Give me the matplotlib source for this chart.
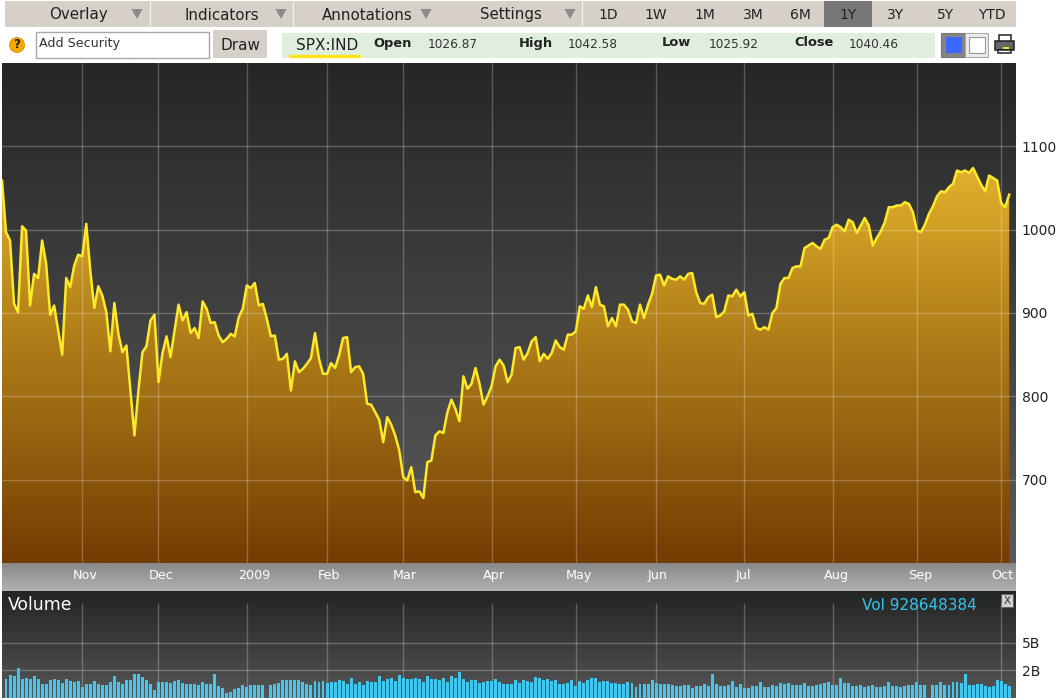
import numpy as np
import matplotlib
matplotlib.use("Agg")
import matplotlib.pyplot as plt
from matplotlib.colors import LinearSegmentedColormap
from matplotlib.patches import Rectangle, Circle, Polygon
from matplotlib.transforms import ScaledTranslation

prices = [
 1059,997,987,911,901,1004,999,909,947,942,987,959,898,909,879,850,942,931,957,970,
 968,1007,951,906,932,921,901,854,912,875,853,861,807,753,807,853,860,891,898,817,
 852,872,847,879,910,891,901,876,882,870,914,905,888,889,873,865,869,875,872,895,
 905,933,930,936,909,911,893,872,873,844,845,851,807,842,829,833,839,846,876,845,
 827,827,840,834,849,870,871,829,835,836,827,791,790,781,772,745,775,766,753,735,
 703,699,715,685,686,678,721,723,753,758,756,781,796,785,770,824,809,815,834,815,
 790,800,812,836,844,837,817,826,858,859,844,852,866,871,842,851,845,852,867,859,
 856,874,874,878,908,905,921,907,931,910,908,884,894,884,910,910,904,890,888,910,
 894,910,923,945,946,933,944,941,940,944,940,947,948,925,912,911,919,922,895,897,
 902,921,920,928,920,925,897,899,882,880,883,880,900,906,935,942,942,954,956,956,
 978,981,984,980,977,988,990,1003,1006,1003,998,1012,1009,996,1005,1014,1005,981,990,998,
 1009,1027,1027,1029,1029,1033,1031,1021,999,997,1006,1019,1028,1040,1046,1045,1051,1055,1071,1069,
 1071,1068,1074,1064,1054,1046,1065,1062,1059,1032,1027,1042]

# Volume in billions of shares (index matches prices; 0 = no bar)
volumes = [
 0,1.36,1.64,1.55,2.19,1.36,1.45,1.36,1.57,1.38,1.00,.98,1.31,1.33,1.31,1.10,1.36,1.24,1.12,1.21,
 .81,1.02,1.02,1.21,1.00,.93,.95,1.12,1.55,1.17,1.02,1.26,1.26,1.69,1.74,1.48,1.31,1.00,.60,1.17,
 1.17,1.17,1.10,1.21,1.26,1.10,1.00,1.02,1.02,.90,1.14,1.00,1.02,1.74,.88,.71,.38,.45,.64,.69,
 .90,.79,.93,.95,.95,.93,0,.95,1.02,1.10,1.31,1.31,1.31,1.31,1.29,1.14,1.02,.95,1.21,1.12,
 1.19,1.10,1.12,1.14,1.29,1.21,1.00,1.41,1.02,1.14,.95,1.21,1.12,1.17,1.60,1.21,1.38,1.40,1.19,1.67,
 1.43,1.38,1.36,1.43,1.36,1.17,1.60,1.33,1.33,1.26,1.40,1.14,1.57,1.43,1.88,1.38,1.17,1.31,1.31,1.05,
 1.12,1.21,1.21,1.36,1.12,1.00,.98,1.02,1.31,1.07,1.31,1.21,
 1.12,1.48,1.43,1.29,1.33,1.24,1.29,1.02,.98,1.05,1.26,.88,1.21,1.10,1.31,1.43,1.43,1.12,1.19,1.21,
 1.10,1.10,1.02,1.00,1.17,1.10,.81,1.02,1.02,1.02,1.26,1.10,1.00,1.00,1.02,.95,.83,.83,.90,.93,
 .71,.86,.88,.98,.86,1.71,1.00,.88,.83,.93,1.21,.81,1.00,.74,.69,.88,.88,1.12,.79,.76,
 .95,.83,1.10,1.00,1.10,.95,.93,.93,1.10,.86,.83,.95,1.00,1.10,1.17,.90,.93,1.43,1.05,1.05,
 .83,.88,.93,.79,.88,.93,.79,.79,.83,1.12,.88,.86,.79,.86,.95,.95,1.17,.95,.90,0,
 .95,.95,1.14,.95,.95,1.12,1.17,1.10,1.71,.93,.93,1.00,1.00,.88,.81,.83,1.31,1.19,1.02,.88]

month_labels = ["Nov","Dec","2009","Feb","Mar","Apr","May","Jun","Jul","Aug","Sep","Oct"]
month_starts = [20,39,61,81,100,122,143,163,185,207,228,249]
label_shift_px = [3,3,7,2,2,2,3,2,-1,4,3,1]
price_ticks = [700,800,900,1000,1100]
volume_ticks = [2,5]
volume_tick_labels = ["2B","5B"]
range_buttons = ["1D","1W","1M","3M","6M","1Y","3Y","5Y","YTD"]

W, H = 1059, 698
fig = plt.figure(figsize=(W/100, H/100), dpi=100, facecolor="white")
plt.rcParams["font.family"] = "DejaVu Sans"

def rect(px0, py0, px1, py1):
    return [px0/W, 1-py1/H, (px1-px0)/W, (py1-py0)/H]

bg = fig.add_axes([0,0,1,1], zorder=0)
bg.set_xlim(0,W); bg.set_ylim(H,0); bg.axis("off")

def vgrad(a, x0, y0, x1, y1, colors):
    cm = LinearSegmentedColormap.from_list("g", colors)
    g = np.linspace(0,1,256).reshape(-1,1)
    a.imshow(g, cmap=cm, extent=(x0,x1,y1,y0), aspect="auto", interpolation="bilinear", zorder=1)

vgrad(bg, 2, 63, 1016, 563, ["#252725","#414141","#5a5a5a"])
vgrad(bg, 2, 563, 1016, 591, ["#888888","#b2b2b2"])
vgrad(bg, 2, 591, 1016, 698, ["#232523","#3c3c3c","#565656"])
bg.set_xlim(0,W); bg.set_ylim(H,0)

# toolbar
TAN = "#d6d0c8"
bg.add_patch(Rectangle((5,1),1011,26,fc=TAN,ec="none",zorder=1))
for x in [150,293,582]:
    bg.plot([x,x],[1,27],color="#f2efea",lw=1.0,zorder=2)
bg.add_patch(Rectangle((824,1),48,26,fc="#777777",ec="none",zorder=2))
for x,t in [(78,"Overlay"),(222,"Indicators"),(367,"Annotations"),(511,"Settings")]:
    bg.text(x,15,t,ha="center",va="center",fontsize=10.8,color="#222222",zorder=3)
for x in [137,281,426,570]:
    bg.add_patch(Polygon([[x-5.5,9],[x+5.5,9],[x,19]],fc="#8c8c8c",ec="none",zorder=3))
for x,t in zip([608,656,705,753,800,848,896,945,992],range_buttons):
    bg.text(x,15,t,ha="center",va="center",fontsize=10,color="#222222",zorder=3)

# second row
bg.add_patch(Circle((17,45),7.5,fc="#f7a800",ec="#d08800",lw=.5,zorder=2))
bg.text(17,45,"?",ha="center",va="center",fontsize=8.5,fontweight="bold",color="#222222",zorder=3)
bg.add_patch(Rectangle((36,32),173,26,fc="white",ec="#a8a8a8",lw=1,zorder=2))
bg.text(39,43,"Add Security",ha="left",va="center",fontsize=9.1,color="#333333",zorder=3)
bg.add_patch(Rectangle((213,30),54,28,fc=TAN,ec="none",zorder=2))
bg.text(240,45,"Draw",ha="center",va="center",fontsize=11,color="#222222",zorder=3)
bg.add_patch(Rectangle((282,33),653,25,fc="#dfeedd",ec="none",zorder=2))
bg.text(327.5,45,"SPX:IND",ha="center",va="center",fontsize=11,color="#222222",zorder=3)
bg.plot([290,359],[55.5,55.5],color="#ffe41a",lw=2.4,solid_capstyle="round",zorder=3)
for x,t in [(373,"Open"),(519,"High"),(662,"Low"),(794,"Close")]:
    bg.text(x,43,t,ha="left",va="center",fontsize=9.4,fontweight="bold",color="#222222",zorder=3)
for x,t in [(428,"1026.87"),(568,"1042.58"),(709,"1025.92"),(849,"1040.46")]:
    bg.text(x,44,t,ha="left",va="center",fontsize=8.7,color="#333333",zorder=3)

# colour toggle
bg.add_patch(Rectangle((941,33),24,24,fc="#858585",ec="#777777",lw=.8,zorder=2))
bg.add_patch(Rectangle((965,33),23,24,fc="#ececec",ec="#aaaaaa",lw=.8,zorder=2))
bg.add_patch(Rectangle((946,37),16,16,fc="#3b68ff",ec="none",zorder=3))
bg.add_patch(Rectangle((969,37),16,16,fc="white",ec="#999999",lw=.8,zorder=3))
# printer icon
bg.add_patch(Rectangle((999,35),12,7,fc="white",ec="#222222",lw=1.1,zorder=3))
bg.add_patch(Rectangle((995,41),19,9,fc="#666666",ec="#222222",lw=1.1,zorder=3))
bg.add_patch(Rectangle((998,50),13,3,fc="white",ec="#222222",lw=1.1,zorder=3))
bg.add_patch(Rectangle((1003,47),6,2,fc="#f0e030",ec="none",zorder=4))

# price chart
ax = fig.add_axes(rect(2,63,1016,563), zorder=1)
ax.patch.set_alpha(0)
xs = np.arange(len(prices))
ax.set_xlim(0,252.7); ax.set_ylim(600,1200)
cm = LinearSegmentedColormap.from_list("gold",["#e2b02c","#ba891c","#976410","#733c02"])
im = ax.imshow(np.linspace(0,1,256).reshape(-1,1), cmap=cm, extent=(0,252.7,600,1075),
               aspect="auto", interpolation="bilinear", zorder=1)
poly = ax.fill_between(xs, prices, 600, color="none")
im.set_clip_path(poly.get_paths()[0], transform=ax.transData)
ax.set_xlim(0,252.7); ax.set_ylim(600,1200)
ax.plot(xs, prices, color="#fde92a", lw=1.8, solid_joinstyle="round", zorder=3)
ax.set_xticks(month_starts); ax.set_xticklabels(month_labels)
ax.set_yticks(price_ticks)
ax.grid(True, color="#ffffff", alpha=.24, lw=1.0, zorder=2)
ax.set_axisbelow(False)
ax.yaxis.tick_right()
ax.tick_params(axis="both", length=0)
ax.tick_params(axis="x", colors="white", labelsize=9.2, pad=4)
ax.tick_params(axis="y", colors="#222222", labelsize=10, pad=4)
for lab,dx in zip(ax.get_xticklabels(), label_shift_px):
    lab.set_transform(lab.get_transform()+ScaledTranslation(dx/100,0,fig.dpi_scale_trans))
for s in ax.spines.values():
    s.set_visible(False)

# volume chart
f_px = lambda v: np.interp(v,[0,2,5,10],[0,28,55,107])
f_inv = lambda p: np.interp(p,[0,28,55,107],[0,2,5,10])
vax = fig.add_axes(rect(2,591,1016,698), zorder=1)
vax.patch.set_alpha(0)
vax.set_yscale("function", functions=(f_px,f_inv))
vax.set_xlim(0,252.7); vax.set_ylim(0,10)
vax.bar(xs, volumes, width=.74, color="#42c8ee", zorder=3)
vax.set_xticks([]); vax.set_yticks(volume_ticks); vax.set_yticklabels(volume_tick_labels)
vax.minorticks_off()
vax.yaxis.tick_right()
vax.yaxis.grid(True,color="#ffffff",alpha=.24,lw=1.0,zorder=2)
vax.vlines(month_starts,0,8.8,color="#ffffff",alpha=.24,lw=1.0,zorder=2)
vax.tick_params(axis="y",colors="#222222",labelsize=10,pad=4,length=0)
for s in vax.spines.values():
    s.set_visible(False)

bg.text(8,605,"Volume",ha="left",va="center",fontsize=12.4,color="white",zorder=3)
bg.text(977,605,"Vol 928648384",ha="right",va="center",fontsize=11,color="#35c3ee",zorder=3)
bg.add_patch(Rectangle((1001,594),12,13,fc="#d0d0d0",ec="#555555",lw=.5,zorder=3))
bg.text(1007,600.5,"X",ha="center",va="center",fontsize=7.5,color="#333333",zorder=4)

fig.savefig("out.png", dpi=100, facecolor="white")
